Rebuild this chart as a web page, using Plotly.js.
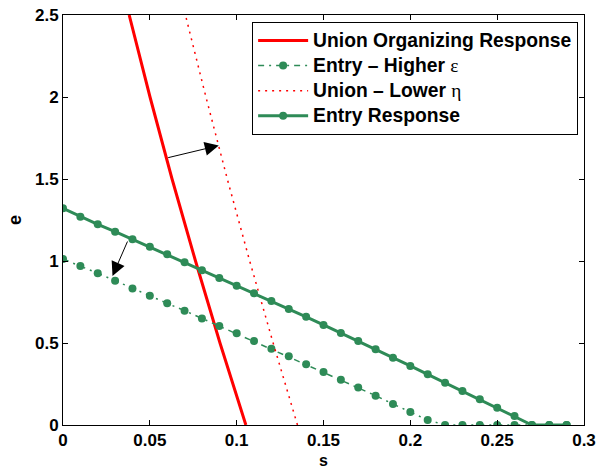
<!DOCTYPE html>
<html>
<head>
<meta charset="utf-8">
<script src="https://cdn.plot.ly/plotly-3.0.1.min.js"></script>
<style>html,body{margin:0;padding:0;background:#fff;}#chart{width:598px;height:469px;}</style>
</head>
<body>
<div id="chart"></div>
<script>
// Entry curves (sampled every 0.01 in s)
const sGrid = [0,0.01,0.02,0.03,0.04,0.05,0.06,0.07,0.08,0.09,0.10,0.11,0.12,0.13,0.14,0.15,0.16,0.17,0.18,0.19,0.20,0.21,0.22,0.23,0.24,0.25,0.26,0.27,0.28,0.29];
const entryResponse = [1.321,1.270,1.224,1.179,1.132,1.087,1.041,0.992,0.943,0.896,0.849,0.803,0.756,0.707,0.660,0.610,0.561,0.512,0.462,0.410,0.360,0.309,0.258,0.207,0.157,0.105,0.055,0,0,0];
const entryHigherEps = [1.012,0.970,0.925,0.880,0.833,0.788,0.742,0.697,0.650,0.604,0.559,0.512,0.465,0.419,0.370,0.323,0.276,0.228,0.179,0.128,0.079,0.030,0,0,0,0,0,0,0,0];
// Union curves (s as function of e)
const unionE = [0,0.5,1.0,1.5,2.0,2.5];
const unionOrgS = [0.1053,0.0904,0.0763,0.0628,0.0501,0.0381];
const unionLowerEtaS = [0.1350,0.1210,0.1075,0.0946,0.0823,0.0705];
// Arrows: [tail s, tail e, head s, head e]
const arrowUnion = [0.0597,1.628,0.0897,1.704];
const arrowEntry = [0.0375,1.128,0.0285,0.909];

const xTicks = [0,0.05,0.1,0.15,0.2,0.25,0.3];
const xTickText = ['0','0.05','0.1','0.15','0.2','0.25','0.3'];
const yTicks = [0,0.5,1,1.5,2,2.5];
const yTickText = ['0','0.5','1','1.5','2','2.5'];

const green = '#2e8b57';
const red = '#ff0000';
const F = 'Liberation Sans, Arial, sans-serif';
const greek = s => '<span style="font-family:Liberation Serif;font-weight:normal">' + s + '</span>';
const big = s => '<span style="font-size:19.3px">' + s + '</span>';

const traces = [
  {x: unionOrgS, y: unionE, mode: 'lines', name: big('Union Organizing Response'),
   line: {color: red, width: 3}},
  {x: sGrid, y: entryHigherEps, mode: 'lines+markers', name: big('Entry – Higher ' + greek('ε')),
   line: {color: green, width: 1.5, dash: '6px,5px,2px,5px'},
   marker: {color: green, size: 8}},
  {x: unionLowerEtaS, y: unionE, mode: 'lines', name: big('Union – Lower ' + greek('η')),
   line: {color: red, width: 1.5, dash: '2px,5px'}},
  {x: sGrid, y: entryResponse, mode: 'lines+markers', name: big('Entry Response'),
   line: {color: green, width: 3},
   marker: {color: green, size: 8}}
];

function arrow(a){
  return {x: a[2], y: a[3], ax: a[0], ay: a[1], xref: 'x', yref: 'y', axref: 'x', ayref: 'y',
    showarrow: true, arrowhead: 2, arrowsize: 2.8, arrowwidth: 1, arrowcolor: '#000', text: ''};
}

const axisCommon = {
  showline: true, linecolor: '#000', linewidth: 1, mirror: 'ticks',
  ticks: 'inside', ticklen: 5, tickcolor: '#000', tickwidth: 1,
  showgrid: false, zeroline: false, automargin: false,
  tickfont: {family: F, size: 17, color: '#000', weight: 'bold'}
};

const layout = {
  width: 598, height: 469,
  margin: {l: 63, r: 14, t: 15, b: 44},
  paper_bgcolor: '#fff', plot_bgcolor: '#fff',
  showlegend: true,
  xaxis: Object.assign({}, axisCommon, {
    range: [0, 0.3], tickvals: xTicks, ticktext: xTickText, ticklabelstandoff: 0,
    title: {text: 's', font: {family: F, size: 16, color: '#000', weight: 'bold'}, standoff: 10}
  }),
  yaxis: Object.assign({}, axisCommon, {
    range: [0, 2.5], tickvals: yTicks, ticktext: yTickText,
    title: {text: 'e', font: {family: F, size: 18, color: '#000', weight: 'bold'}, standoff: 8}
  }),
  legend: {
    x: 0.363, y: 0.983, xanchor: 'left', yanchor: 'top',
    bgcolor: '#fff', bordercolor: '#000', borderwidth: 1,
    font: {family: F, size: 17, color: '#000', weight: 'bold'},
    itemwidth: 50, tracegroupgap: 0
  },
  annotations: [arrow(arrowUnion), arrow(arrowEntry)]
};

Plotly.newPlot('chart', traces, layout, {staticPlot: true, displayModeBar: false});
</script>
</body>
</html>
